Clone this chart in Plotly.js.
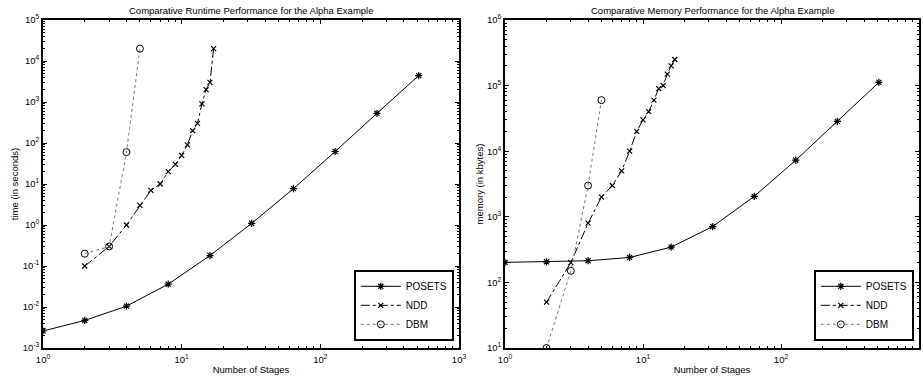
<!DOCTYPE html>
<html>
<head>
<meta charset="utf-8">
<script src="https://cdn.plot.ly/plotly-3.0.1.min.js"></script>
<style>html,body{margin:0;padding:0;background:#fff;}#chart{width:923px;height:379px;}</style>
</head>
<body>
<div id="chart"></div>
<script>
// ---- data ----
const posetsStages = [1, 2, 4, 8, 16, 32, 64, 128, 256, 512];
const posetsTime   = [0.0026, 0.0047, 0.0105, 0.036, 0.18, 1.1, 7.7, 62, 530, 4400];
const posetsMem    = [202, 206, 214, 240, 345, 710, 2050, 7300, 28500, 112000];

const nddStages = [2, 3, 4, 5, 6, 7, 8, 9, 10, 11, 12, 13, 14, 15, 16, 17];
const nddTime   = [0.1, 0.3, 1, 3, 7, 10, 20, 30, 50, 90, 200, 300, 900, 2000, 3000, 20000];
const nddMem    = [50, 200, 800, 2000, 3000, 5000, 10000, 20000, 30000, 40000, 60000, 90000, 100000, 150000, 200000, 250000];

const dbmStages = [2, 3, 4, 5];
const dbmTime   = [0.2, 0.3, 60, 20000];
const dbmMem    = [10, 150, 3000, 60000];

const xTickExp  = [0, 1, 2, 3];
const yTimeExp  = [-3, -2, -1, 0, 1, 2, 3, 4, 5];
const yMemExp   = [1, 2, 3, 4, 5, 6];

const titleLeft  = 'Comparative Runtime Performance for the Alpha Example';
const titleRight = 'Comparative Memory Performance for the Alpha Example';
const xTitle     = 'Number of Stages';
const yTitleLeft = 'time (in seconds)';
const yTitleRight = 'memory (in kbytes)';

// ---- helpers ----
const pw = v => Math.pow(10, v);
const lab = e => '10<sup>' + e + '</sup>';
function minorVals(exps) {
  const out = [];
  for (let i = 0; i < exps.length - 1; i++)
    for (let m = 2; m <= 9; m++) out.push(m * pw(exps[i]));
  return out;
}

const FONT = 'Liberation Sans, Arial, Helvetica, sans-serif';

function axisBase(exps, domain, anchor) {
  return {
    type: 'log',
    domain: domain,
    anchor: anchor,
    range: [exps[0], exps[exps.length - 1]],
    tickmode: 'array',
    tickvals: exps.map(pw),
    ticktext: exps.map(lab),
    ticks: 'inside',
    ticklen: 4,
    tickwidth: 1,
    tickcolor: '#000',
    showline: true,
    linecolor: '#000',
    linewidth: 1.8,
    mirror: 'ticks',
    showgrid: false,
    zeroline: false,
    tickfont: {family: FONT, size: 9.5, color: '#000'},
    minor: {tickmode: 'array', tickvals: minorVals(exps), ticks: 'inside', ticklen: 2, tickcolor: '#000', tickwidth: 1, showgrid: false},
    automargin: false
  };
}

function traces(xa, ya, legend, yP, yN, yD) {
  return [
    {x: posetsStages, y: yP, name: 'POSETS', xaxis: xa, yaxis: ya, legend: legend,
     mode: 'lines+markers', line: {color: '#000', width: 1, dash: 'solid'},
     marker: {symbol: 'asterisk-open', size: 6, color: '#000', line: {color: '#000', width: 1.2}}},
    {x: nddStages, y: yN, name: 'NDD', xaxis: xa, yaxis: ya, legend: legend,
     mode: 'lines+markers', line: {color: '#000', width: 1, dash: 'dashdot'},
     marker: {symbol: 'x-thin-open', size: 5, color: '#000', line: {color: '#000', width: 1.2}}},
    {x: dbmStages, y: yD, name: 'DBM', xaxis: xa, yaxis: ya, legend: legend,
     mode: 'lines+markers', line: {color: '#777', width: 1, dash: 'dot'},
     marker: {symbol: 'circle-open', size: 7, color: '#000', line: {color: '#000', width: 1}}}
  ];
}

const data = [].concat(
  traces('x', 'y', 'legend', posetsTime, nddTime, dbmTime),
  traces('x2', 'y2', 'legend2', posetsMem, nddMem, dbmMem)
);

const W = 923, H = 379;
const yDom = [(H - 348) / H, (H - 20) / H];
const legendBase = {
  bgcolor: '#fff', bordercolor: '#000', borderwidth: 1.8,
  font: {family: FONT, size: 10, color: '#000'},
  xanchor: 'right', yanchor: 'bottom', xref: 'paper', yref: 'paper',
  tracegroupgap: 0, itemwidth: 40, entrywidth: 70
};

const axTitleFont = {family: FONT, size: 9.5, color: '#000'};

const layout = {
  width: W, height: H,
  margin: {l: 0, r: 0, t: 0, b: 0},
  paper_bgcolor: '#fff', plot_bgcolor: '#fff',
  font: {family: FONT, size: 9, color: '#000'},
  showlegend: true,
  xaxis: Object.assign(axisBase(xTickExp, [43 / W, 459 / W], 'y'), {title: {text: xTitle, font: axTitleFont, standoff: 2}, ticklabelstandoff: 2}),
  yaxis: Object.assign(axisBase(yTimeExp, yDom, 'x'), {title: {text: yTitleLeft, font: axTitleFont, standoff: 2}}),
  xaxis2: Object.assign(axisBase(xTickExp, [505 / W, 919 / W], 'y2'), {title: {text: xTitle, font: axTitleFont, standoff: 2}, ticklabelstandoff: 2}),
  yaxis2: Object.assign(axisBase(yMemExp, yDom, 'x2'), {title: {text: yTitleRight, font: axTitleFont, standoff: 2}}),
  legend: Object.assign({}, legendBase, {x: 454 / W, y: (H - 341) / H}),
  legend2: Object.assign({}, legendBase, {x: 914 / W, y: (H - 341) / H}),
  annotations: [
    {text: titleLeft, x: (43 + 459) / 2 / W, y: (H - 10) / H, xref: 'paper', yref: 'paper', xanchor: 'center', yanchor: 'middle', showarrow: false, font: {family: FONT, size: 9.5, color: '#000'}},
    {text: titleRight, x: (505 + 919) / 2 / W, y: (H - 10) / H, xref: 'paper', yref: 'paper', xanchor: 'center', yanchor: 'middle', showarrow: false, font: {family: FONT, size: 9.5, color: '#000'}}
  ]
};

Plotly.newPlot('chart', data, layout, {displayModeBar: false, staticPlot: true});
</script>
</body>
</html>
